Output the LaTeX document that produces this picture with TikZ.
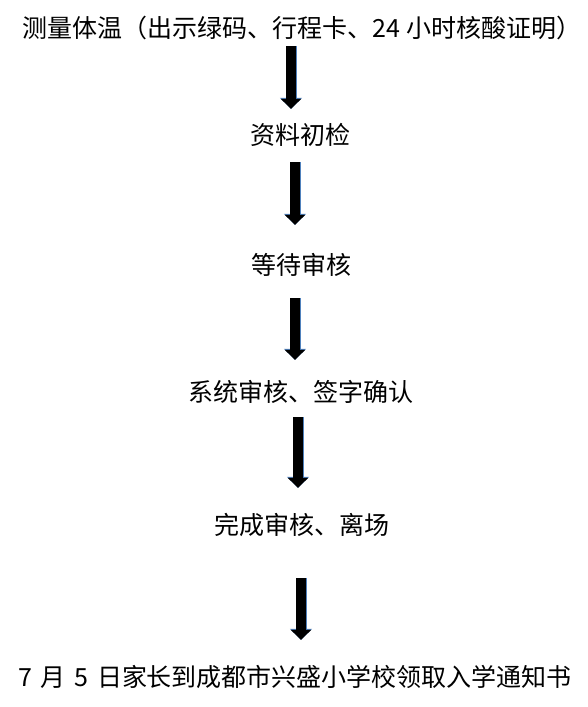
\documentclass[tikz,border=0pt]{standalone}
\usepackage{fontspec}
\setmainfont{Noto Sans CJK SC}
\usetikzlibrary{arrows.meta}

\definecolor{arrowblue}{RGB}{79,129,189}

\tikzset{
    step text/.style={inner sep=0pt, font=\fontsize{25}{27}\selectfont,
        text height=22pt, text depth=3pt},
    fat/.style={line width=10pt, -{Triangle[width=20pt,length=10pt]},
        preaction={draw=arrowblue, line width=11pt,
            -{Triangle[width=21.5pt,length=11pt]}}}
}

\begin{document}
\begin{tikzpicture}[x=1pt, y=-1pt]
    \useasboundingbox (0,0) rectangle (588,707);

    \node [step text] (t1) at (302,28) {测量体温（出示绿码、行程卡、24 小时核酸证明）};
    \node [step text] (t2) at (300,135) {资料初检};
    \node [step text] (t3) at (301,265) {等待审核};
    \node [step text] (t4) at (301,392) {系统审核、签字确认};
    \node [step text] (t5) at (302,525) {完成审核、离场};
    \node [step text] (t6) at (295,677) {7\hspace{0.35em}月\hspace{0.35em}5\hspace{0.35em}日家长到成都市兴盛小学校领取入学通知书};

    \draw[fat, shorten <=5.5pt, shorten >=13.5pt] (t1.south -| 291,0) -- (t2.north -| 291,0);
    \draw[fat, shorten <=14.5pt, shorten >=27.5pt] (t2.south -| 295,0) -- (t3.north -| 295,0);
    \draw[fat, shorten <=20.5pt, shorten >=19.5pt] (t3.south -| 295,0) -- (t4.north -| 295,0);
    \draw[fat, shorten <=12.5pt, shorten >=24.5pt] (t4.south -| 298,0) -- (t5.north -| 298,0);
    \draw[fat, shorten <=40.5pt, shorten >=24.5pt] (t5.south -| 301,0) -- (t6.north -| 301,0);
\end{tikzpicture}
\end{document}
